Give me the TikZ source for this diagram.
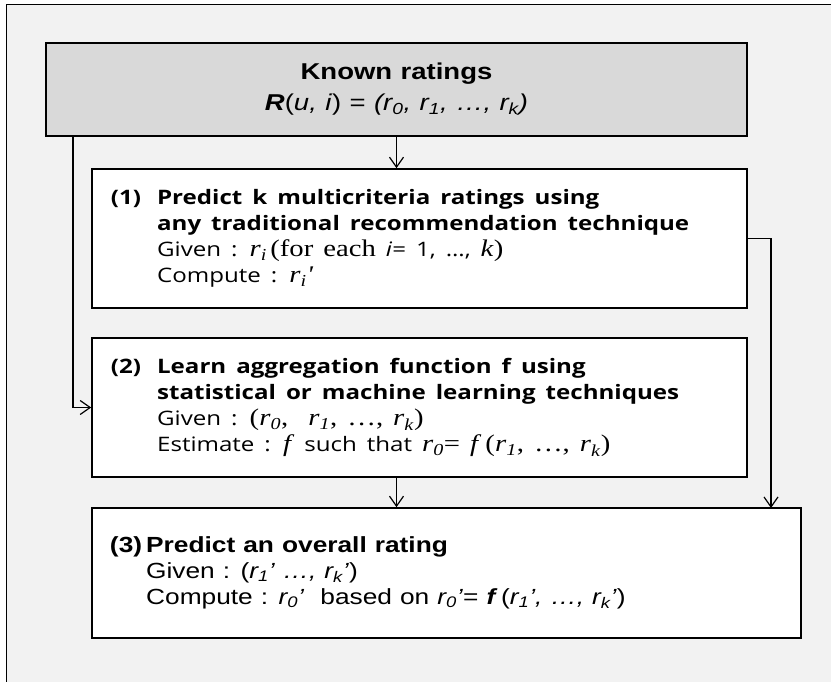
\documentclass[tikz,border=0pt]{standalone}
\usepackage{fontspec}
\setmainfont{Liberation Sans}[FakeStretch=1.2, WordSpace=1.1]
\newfontfamily\kofont{Open Sans}[FakeStretch=1.21, WordSpace=1.6]
\newfontfamily\serfont{Liberation Serif}[Scale=1.2, FakeStretch=1.2, WordSpace=1.4]
\usetikzlibrary{arrows.meta, positioning}
\definecolor{frame_gray}{RGB}{242, 242, 242}
\definecolor{known_gray}{RGB}{217, 217, 217}
\newcommand{\rser}[1]{{\serfont\textit{r}\textsubscript{\textit{#1}}}}

\begin{document}
\begin{tikzpicture}[
    x=1bp, y=-1bp,
    known/.style={
        rectangle,
        draw=black,
        fill=known_gray,
        line width=1.6bp,
        minimum width=701bp,
        minimum height=93bp,
        align=center,
        font=\fontsize{23}{31}\selectfont
    },
    stage/.style={
        rectangle,
        draw=black,
        fill=white,
        line width=1.6bp,
        minimum height=#1,
        inner xsep=19bp,
        align=flush left
    },
    arrow/.style={
        -{Straight Barb[length=10bp,width=14bp]},
        line width=1.2bp
    }
]

% Page and outer frame
\clip (0,0) rectangle (831,682);
\draw[fill=frame_gray, line width=0.8bp] (6,4) rectangle (860,700);

% Known ratings on top
\node[known] (known) at (396.5,89.5) {\textbf{Known ratings}\\
    \textbf{\textit{R}}(\textit{u, i}) = \textit{(r\textsubscript{0}, r\textsubscript{1}, …, r\textsubscript{k})}};

% Step (1)
\node[stage=139bp, minimum width=655bp, text width=617bp] (predict) at (419.5,238.5) {%
    {\kofont\fontsize{20}{26}\selectfont
    \begin{tabular}{@{}l@{\hspace{16bp}}l@{}}
    \textbf{(1)} & \textbf{Predict k multicriteria ratings using}\\
     & \textbf{any traditional recommendation technique}\\
     & Given : \rser{i}\,{\serfont(for each} \textit{i}= 1, …, {\serfont\textit{k})}\\
     & Compute : \rser{i}{\serfont\textit{'}}
    \end{tabular}}};

% Step (2)
\node[stage=139bp, minimum width=655bp, text width=617bp] (learn) at (419.5,407.5) {%
    {\kofont\fontsize{20}{26}\selectfont
    \begin{tabular}{@{}l@{\hspace{16bp}}l@{}}
    \textbf{(2)} & \textbf{Learn aggregation function f using}\\
     & \textbf{statistical or machine learning techniques}\\
     & Given : {\serfont(\rser{0},\ \ \rser{1}, …, \rser{k})}\\
     & Estimate : {\serfont\textit{f}} such that \rser{0}{\serfont=\ \textit{f}\,(\rser{1}, …,\ \rser{k})}
    \end{tabular}}};

% Step (3)
\node[stage=130bp, minimum width=709bp, text width=673bp, inner xsep=18bp] (overall) at (446.5,573) {%
    {\fontsize{22}{26}\selectfont
    \begin{tabular}{@{}l@{\hspace{4bp}}l@{}}
    \textbf{(3)} & \textbf{Predict an overall rating}\\
     & Given : (\textit{r\textsubscript{1}' …, r\textsubscript{k}'})\\
     & Compute : \textit{r\textsubscript{0}'}\ \ based on \textit{r\textsubscript{0}'}= \textbf{\textit{f}}\,(\textit{r\textsubscript{1}', …, r\textsubscript{k}'})
    \end{tabular}}};

% Free ends of the side connectors
\coordinate (leftfork) at (73,136);
\coordinate (rightdrop) at (771,508);

% Connectors
\draw[arrow] (known.south) -- (known.south |- predict.north);
\draw[arrow] (leftfork) |- (learn.west);
\draw[arrow] (known.south |- learn.south) -- (known.south |- overall.north);
\draw[arrow] (predict.east) -| (rightdrop);

\end{tikzpicture}
\end{document}
